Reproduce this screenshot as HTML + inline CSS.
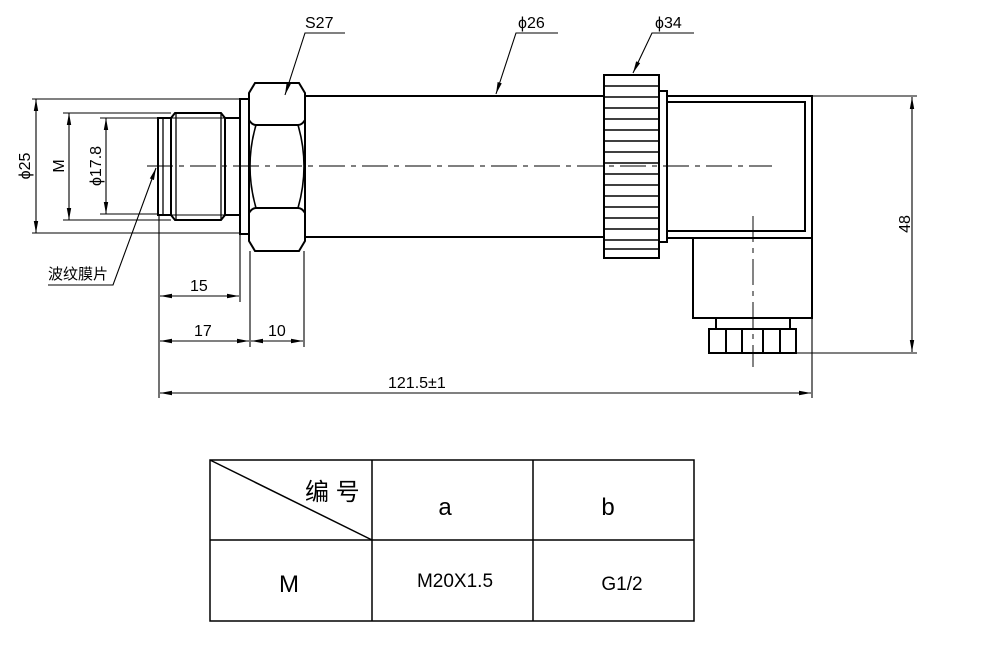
<!DOCTYPE html>
<html><head><meta charset="utf-8"><style>html,body{margin:0;padding:0;background:#fff}svg{display:block}</style></head>
<body>
<svg width="1000" height="654" viewBox="0 0 1000 654" xmlns="http://www.w3.org/2000/svg" font-family="'Liberation Sans','Noto Sans CJK SC',sans-serif">
<defs>
<marker id="a" markerWidth="12" markerHeight="6" refX="12" refY="3" orient="auto-start-reverse" markerUnits="userSpaceOnUse"><path d="M0,0.8 L12,3 L0,5.2z" fill="#000"/></marker>
</defs>
<g stroke="#000" fill="none">
<line x1="147" y1="166" x2="772" y2="166" stroke-width="1.2" stroke-dasharray="26,6,5,6" stroke="#333"/>
<line x1="753" y1="216" x2="753" y2="367" stroke-width="1.2" stroke-dasharray="26,6,5,6" stroke="#333"/>
<g stroke-width="2">
<rect x="158" y="118" width="13" height="97"/>
<line x1="163" y1="118" x2="163" y2="215" stroke-width="1.3"/>
<path d="M171,118 L175,113 L221,113 L225,118 L225,215 L221,220 L175,220 L171,215z"/>
<line x1="176" y1="113" x2="176" y2="220" stroke-width="1.3"/>
<line x1="221" y1="113" x2="221" y2="220" stroke-width="1.3"/>
<line x1="171" y1="118" x2="225" y2="118" stroke-width="1"/>
<line x1="171" y1="215" x2="225" y2="215" stroke-width="1"/>
<rect x="225" y="118" width="15" height="97"/>
<rect x="240" y="99" width="9" height="135"/>
<path d="M255,83 L299,83 L305,93 L305,241 L299,251 L255,251 L249,241 L249,93z"/>
<path d="M249,120 Q252,125 256,125 L298,125 Q302,125 305,120"/>
<path d="M249,213 Q252,208 256,208 L298,208 Q302,208 305,213"/>
<path d="M256,125 Q244,166 256,208 M298,125 Q310,166 298,208" stroke-width="1.6"/>
<line x1="305" y1="96" x2="604" y2="96"/>
<line x1="305" y1="237" x2="604" y2="237"/>
<rect x="604" y="75" width="55" height="183"/>
<rect x="659" y="91" width="8" height="151"/>
<rect x="667" y="96" width="145" height="142"/>
<rect x="667" y="102" width="138" height="129"/>
<rect x="693" y="238" width="119" height="80"/>
<rect x="716" y="318" width="74" height="11"/>
<rect x="709" y="329" width="87" height="24"/>
<line x1="726" y1="329" x2="726" y2="353"/>
<line x1="742" y1="329" x2="742" y2="353"/>
<line x1="763" y1="329" x2="763" y2="353"/>
<line x1="780" y1="329" x2="780" y2="353"/>
</g>
<g stroke-width="1.6">
<line x1="604" y1="86" x2="659" y2="86"/><line x1="604" y1="97" x2="659" y2="97"/>
<line x1="604" y1="108" x2="659" y2="108"/><line x1="604" y1="119" x2="659" y2="119"/>
<line x1="604" y1="130" x2="659" y2="130"/><line x1="604" y1="141" x2="659" y2="141"/>
<line x1="604" y1="152" x2="659" y2="152"/><line x1="604" y1="163" x2="659" y2="163"/>
<line x1="604" y1="174" x2="659" y2="174"/><line x1="604" y1="185" x2="659" y2="185"/>
<line x1="604" y1="196" x2="659" y2="196"/><line x1="604" y1="207" x2="659" y2="207"/>
<line x1="604" y1="218" x2="659" y2="218"/><line x1="604" y1="229" x2="659" y2="229"/>
<line x1="604" y1="240" x2="659" y2="240"/><line x1="604" y1="249" x2="659" y2="249"/>
</g>
<g stroke-width="1.1">
<line x1="32" y1="99" x2="240" y2="99"/><line x1="32" y1="233" x2="240" y2="233"/>
<line x1="63" y1="113" x2="171" y2="113"/><line x1="63" y1="220" x2="171" y2="220"/>
<line x1="100" y1="118" x2="158" y2="118"/><line x1="100" y1="214" x2="158" y2="214"/>
<line x1="159" y1="215" x2="159" y2="398"/>
<line x1="240" y1="234" x2="240" y2="302"/>
<line x1="250" y1="251" x2="250" y2="347"/>
<line x1="304" y1="251" x2="304" y2="347"/>
<line x1="812" y1="318" x2="812" y2="398"/>
<line x1="812" y1="96" x2="917" y2="96"/>
<line x1="796" y1="353" x2="917" y2="353"/>
<line x1="36" y1="99" x2="36" y2="233" marker-start="url(#a)" marker-end="url(#a)"/>
<line x1="69" y1="113" x2="69" y2="220" marker-start="url(#a)" marker-end="url(#a)"/>
<line x1="106" y1="118" x2="106" y2="214" marker-start="url(#a)" marker-end="url(#a)"/>
<line x1="160" y1="296" x2="239" y2="296" marker-start="url(#a)" marker-end="url(#a)"/>
<line x1="160" y1="341" x2="249" y2="341" marker-start="url(#a)" marker-end="url(#a)"/>
<line x1="251" y1="341" x2="303" y2="341" marker-start="url(#a)" marker-end="url(#a)"/>
<line x1="160" y1="393" x2="811" y2="393" marker-start="url(#a)" marker-end="url(#a)"/>
<line x1="912" y1="97" x2="912" y2="352" marker-start="url(#a)" marker-end="url(#a)"/>
<polyline points="345,33 305,33 285,95" marker-end="url(#a)"/>
<polyline points="558,33 516,33 496,94" marker-end="url(#a)"/>
<polyline points="694,33 652,33 633,73" marker-end="url(#a)"/>
<polyline points="48,285 113,285 156,168" marker-end="url(#a)"/>
</g>
<g stroke-width="1.5">
<rect x="210" y="460" width="484" height="161"/>
<line x1="210" y1="540" x2="694" y2="540"/>
<line x1="372" y1="460" x2="372" y2="621"/>
<line x1="533" y1="460" x2="533" y2="621"/>
<line x1="210" y1="460" x2="372" y2="540"/>
</g>
</g>
<g fill="#000" font-size="16">
<text x="305" y="28">S27</text>
<text x="518" y="28">ϕ26</text>
<text x="655" y="28">ϕ34</text>
<text x="190" y="291">15</text>
<text x="194" y="336">17</text>
<text x="268" y="336">10</text>
<text x="388" y="388">121.5±1</text>
<text transform="translate(30,166) rotate(-90)" text-anchor="middle">ϕ25</text>
<text transform="translate(64,166) rotate(-90)" text-anchor="middle">M</text>
<text transform="translate(101,166) rotate(-90)" text-anchor="middle">ϕ17.8</text>
<text transform="translate(910,224) rotate(-90)" text-anchor="middle">48</text>
<text x="48" y="279" font-size="15">波纹膜片</text>
<text x="305" y="500" font-size="24">编 号</text>
<text x="445" y="515" font-size="24" text-anchor="middle">a</text>
<text x="608" y="515" font-size="24" text-anchor="middle">b</text>
<text x="289" y="592" font-size="24" text-anchor="middle">M</text>
<text x="455" y="587" font-size="19" text-anchor="middle">M20X1.5</text>
<text x="622" y="590" font-size="19" text-anchor="middle">G1/2</text>
</g>
</svg>
</body></html>
